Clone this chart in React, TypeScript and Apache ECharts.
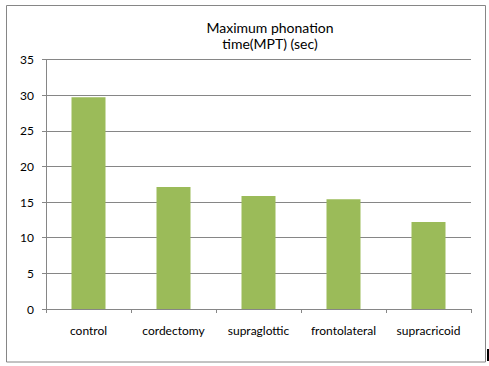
import React, { useEffect, useRef } from "react";
import * as echarts from "echarts";

const categories = ["control", "cordectomy", "supraglottic", "frontolateral", "supracricoid"];
const mptValues = [29.7, 17.1, 15.85, 15.4, 12.2];
const titleLines = ["Maximum phonation", "time(MPT) (sec)"];

export default function App() {
  const ref = useRef<HTMLDivElement>(null);
  useEffect(() => {
    if (!ref.current) return;
    const chart = echarts.init(ref.current, null, { renderer: "svg" });
    const font = "Lato, 'Liberation Sans', sans-serif";
    chart.setOption({
      animation: false,
      backgroundColor: "#ffffff",
      grid: { left: 46, right: 18, top: 59.5, bottom: 57 },
      xAxis: {
        type: "category",
        data: categories,
        axisLine: { lineStyle: { color: "#868686", width: 1 } },
        axisTick: { show: true, length: 4, lineStyle: { color: "#868686" } },
        axisLabel: { color: "#000", fontSize: 12, fontFamily: font, margin: 15 },
        splitLine: { show: false },
      },
      yAxis: {
        type: "value",
        min: 0,
        max: 35,
        interval: 5,
        axisLine: { show: true, lineStyle: { color: "#868686", width: 1 } },
        axisTick: { show: true, length: 4, lineStyle: { color: "#868686" } },
        axisLabel: { color: "#000", fontSize: 12, fontFamily: font, margin: 12 },
        splitLine: { show: true, lineStyle: { color: "#868686", width: 1 } },
      },
      series: [
        {
          type: "bar",
          data: mptValues,
          barWidth: "40%",
          itemStyle: { color: "#9bbb59" },
        },
      ],
      graphic: [
        {
          type: "rect",
          shape: { x: 6.5, y: 5.5, width: 479, height: 356.5 },
          style: { fill: "none", stroke: "#868686", lineWidth: 1 },
          silent: true,
        },
        {
          type: "rect",
          shape: { x: 487, y: 349, width: 2, height: 12 },
          style: { fill: "#000" },
          silent: true,
        },
        {
          type: "text",
          x: 270,
          y: 27,
          style: {
            text: titleLines[0],
            fill: "#000",
            font: `14px ${font}`,
            textAlign: "center",
            textVerticalAlign: "middle",
          },
        },
        {
          type: "text",
          x: 270,
          y: 43,
          style: {
            text: titleLines[1],
            fill: "#000",
            font: `14px ${font}`,
            textAlign: "center",
            textVerticalAlign: "middle",
          },
        },
      ],
    });
    return () => chart.dispose();
  }, []);
  return (
    <div
      ref={ref}
      style={{ position: "fixed", left: 0, top: 0, width: 489, height: 366 }}
    />
  );
}
